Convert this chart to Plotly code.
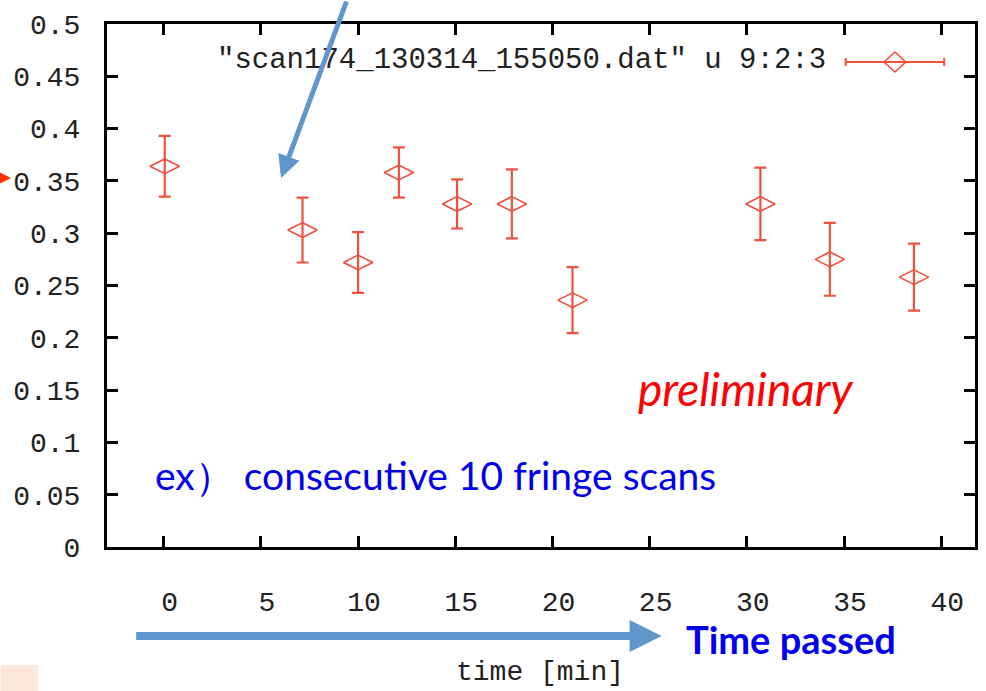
import plotly.graph_objects as go

# ---- data ----
time_min = [0.05, 7.14, 10.0, 12.1, 15.09, 17.91, 21.03, 30.7, 34.27, 38.6]
visibility = [0.364, 0.303, 0.272, 0.358, 0.328, 0.328, 0.236, 0.328, 0.275, 0.258]
vis_err = [0.029, 0.031, 0.029, 0.024, 0.0235, 0.033, 0.0316, 0.0346, 0.0348, 0.032]

x_ticks = [0, 5, 10, 15, 20, 25, 30, 35, 40]
y_ticks = [0, 0.05, 0.1, 0.15, 0.2, 0.25, 0.3, 0.35, 0.4, 0.45, 0.5]
y_ticktext = ["0", "0.05", "0.1", "0.15", "0.2", "0.25", "0.3", "0.35", "0.4", "0.45", "0.5"]

legend_label = '"scan174_130314_155050.dat" u 9:2:3'
x_title = "time [min]"

RED = "#F0503C"
BLUE_ARROW = "#6096CC"
MONO = "Liberation Mono"
SANS = "Lato"

fig = go.Figure()
fig.add_trace(go.Scatter(
    x=time_min, y=visibility, mode="markers",
    marker=dict(symbol="diamond-wide-open", size=21, color=RED, line=dict(width=1.6, color=RED)),
    error_y=dict(type="data", array=vis_err, visible=True, color=RED, thickness=2.2, width=6),
    showlegend=False,
))

axis_common = dict(
    showline=True, linecolor="black", linewidth=3, mirror="ticks",
    ticks="inside", ticklen=11, tickwidth=3, tickcolor="black",
    showgrid=False, zeroline=False,
    tickfont=dict(family=MONO, size=28, color="#222"),
)

fig.update_xaxes(range=[-2.92, 41.74], tickvals=x_ticks, ticklabelstandoff=27,
                 ticklabelshift=6, **axis_common)
fig.update_yaxes(range=[0, 0.5], tickvals=y_ticks, ticktext=y_ticktext,
                 ticklabelstandoff=18, **axis_common)

annotations = [
    # legend text
    dict(text=legend_label, x=0.8305, y=0.931, xref="paper", yref="paper",
         xanchor="right", yanchor="middle", showarrow=False,
         font=dict(family=MONO, size=29, color="#222")),
    # x title
    dict(text=x_title, x=0.4994, y=(547 - 690) / 523, xref="paper", yref="paper",
         xanchor="center", yanchor="bottom", showarrow=False,
         font=dict(family=MONO, size=28, color="#222")),
    dict(text="<i>preliminary</i>", x=0.736, y=0.304, xref="paper", yref="paper",
         xanchor="center", yanchor="middle", showarrow=False,
         font=dict(family=SANS, size=46, color="#FF0000")),
    dict(text="ex）&nbsp;consecutive 10 fringe scans", x=0.0527, y=0.1377, xref="paper", yref="paper",
         xanchor="left", yanchor="middle", showarrow=False,
         font=dict(family=SANS, size=39, color="#0000EE")),
    dict(text="<b>Time passed</b>", x=0.788, y=-0.176, xref="paper", yref="paper",
         xanchor="center", yanchor="middle", showarrow=False,
         font=dict(family=SANS, size=38, color="#0000EE")),
    # diagonal arrow
    dict(x=0.2005, y=0.7055, xref="paper", yref="paper", ax=66, ay=-195,
         axref="pixel", ayref="pixel", showarrow=True, arrowhead=2, arrowsize=0.9,
         arrowwidth=5, arrowcolor=BLUE_ARROW, text=""),
    # horizontal arrow
    dict(x=0.639, y=-0.170, xref="paper", yref="paper", ax=-527, ay=0,
         showarrow=True, arrowhead=2, arrowsize=0.8, arrowwidth=8,
         arrowcolor=BLUE_ARROW, text=""),
    # small red arrow at left edge
    dict(x=-0.1105, y=0.7055, xref="paper", yref="paper", ax=-30, ay=0,
         showarrow=True, arrowhead=2, arrowsize=1.6, arrowwidth=4,
         arrowcolor="#FF3300", text=""),
]

# legend sample (error bar with diamond) in paper coords
lx0, lx1, ly = 0.851, 0.9645, 0.9273
lxc = (lx0 + lx1) / 2
dx, dy = 11 / 873, 10 / 523
cap = 4 / 523
shapes = [
    dict(type="line", xref="paper", yref="paper", x0=lx0, x1=lx1, y0=ly, y1=ly,
         line=dict(color=RED, width=2)),
    dict(type="line", xref="paper", yref="paper", x0=lx0, x1=lx0, y0=ly - cap, y1=ly + cap,
         line=dict(color=RED, width=2)),
    dict(type="line", xref="paper", yref="paper", x0=lx1, x1=lx1, y0=ly - cap, y1=ly + cap,
         line=dict(color=RED, width=2)),
    dict(type="path", xref="paper", yref="paper",
         path=f"M {lxc-dx},{ly} L {lxc},{ly+dy} L {lxc+dx},{ly} L {lxc},{ly-dy} Z",
         line=dict(color=RED, width=1.6)),
    # peach patch bottom-left
    dict(type="rect", xref="paper", yref="paper", x0=-107/873, x1=(38-107)/873,
         y0=(547-691)/523, y1=(547-665)/523, fillcolor="#FCE8DA", line=dict(width=0)),
]

fig.update_layout(
    width=986, height=691,
    margin=dict(l=107, r=8, t=24, b=144),
    paper_bgcolor="white", plot_bgcolor="white",
    annotations=annotations, shapes=shapes,
    showlegend=False,
)

fig.write_html("out.html")
